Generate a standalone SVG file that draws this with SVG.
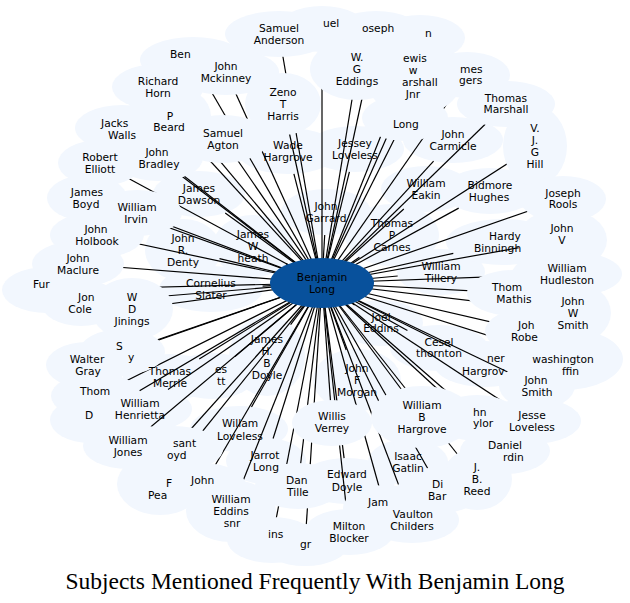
<svg xmlns="http://www.w3.org/2000/svg" width="630" height="603" viewBox="0 0 630 603">
<style>
.c{fill:#f2f7fe;stroke:none}
.e line{stroke:#000;stroke-width:1.2}
text{font-family:"DejaVu Sans","Liberation Sans",sans-serif;font-size:10.7px;fill:#000}
.m{text-anchor:middle}
.title{font-family:"Liberation Serif","Times New Roman",serif;font-size:23.5px;text-anchor:middle}
</style>
<rect width="630" height="603" fill="#fff"/>
<g id="cloud-inner" class="c">
<ellipse cx="326" cy="212" rx="45" ry="23"/>
<ellipse cx="392" cy="235" rx="47" ry="31"/>
<ellipse cx="253" cy="246" rx="40" ry="31"/>
<ellipse cx="211" cy="289" rx="52" ry="23"/>
<ellipse cx="381" cy="323" rx="42" ry="23"/>
<ellipse cx="267" cy="356" rx="38" ry="40"/>
<ellipse cx="357" cy="380" rx="44" ry="31"/>
<ellipse cx="439" cy="348" rx="49" ry="23"/>
<ellipse cx="441" cy="272" rx="44" ry="23"/>
<ellipse cx="183" cy="250" rx="38" ry="31"/>
<ellipse cx="288" cy="151" rx="51" ry="23"/>
<ellipse cx="355" cy="149" rx="49" ry="23"/>
<ellipse cx="426" cy="189" rx="45" ry="23"/>
<ellipse cx="212" cy="376" rx="43" ry="23"/>
<ellipse cx="199" cy="194" rx="46" ry="23"/>
<ellipse cx="490" cy="191" rx="47" ry="23"/>
<ellipse cx="503" cy="242" rx="57" ry="23"/>
<ellipse cx="453" cy="140" rx="50" ry="23"/>
<ellipse cx="485" cy="364" rx="51" ry="23"/>
<ellipse cx="170" cy="377" rx="47" ry="23"/>
<ellipse cx="140" cy="409" rx="52" ry="23"/>
<ellipse cx="239" cy="429" rx="49" ry="23"/>
<ellipse cx="347" cy="481" rx="48" ry="23"/>
<ellipse cx="266" cy="461" rx="40" ry="23"/>
<ellipse cx="408" cy="462" rx="40" ry="23"/>
</g>
<g id="connectors" class="e">
<line x1="322" y1="283" x2="324.7" y2="235"/>
<line x1="322" y1="283" x2="359.4" y2="257.3"/>
<line x1="322" y1="283" x2="285.9" y2="263.6"/>
<line x1="322" y1="283" x2="262.6" y2="286.2"/>
<line x1="322" y1="283" x2="354.6" y2="305.1"/>
<line x1="322" y1="283" x2="290.6" y2="324.7"/>
<line x1="322" y1="283" x2="346.2" y2="350"/>
<line x1="322" y1="283" x2="407.4" y2="330.4"/>
<line x1="322" y1="283" x2="397.7" y2="276"/>
<line x1="322" y1="283" x2="219.5" y2="258.7"/>
<line x1="322" y1="283" x2="293.9" y2="173.8"/>
<line x1="322" y1="283" x2="349.4" y2="171.8"/>
<line x1="322" y1="283" x2="403.8" y2="209"/>
<line x1="322" y1="283" x2="235" y2="356.6"/>
<line x1="322" y1="283" x2="225.2" y2="212.9"/>
<line x1="322" y1="283" x2="458.7" y2="208.1"/>
<line x1="322" y1="283" x2="453.3" y2="253.3"/>
<line x1="322" y1="283" x2="433.6" y2="161.2"/>
<line x1="322" y1="283" x2="450.7" y2="347"/>
<line x1="322" y1="283" x2="199.2" y2="359"/>
<line x1="322" y1="283" x2="168" y2="389.6"/>
<line x1="322" y1="283" x2="251.5" y2="407"/>
<line x1="322" y1="283" x2="344.1" y2="458.1"/>
<line x1="322" y1="283" x2="273.1" y2="438.5"/>
<line x1="322" y1="283" x2="397.3" y2="439.8"/>
<line x1="322" y1="283" x2="332" y2="422"/>
<line x1="322" y1="283" x2="223" y2="139"/>
<line x1="322" y1="283" x2="422" y2="417"/>
<line x1="322" y1="283" x2="279" y2="34"/>
<line x1="322" y1="283" x2="322" y2="29"/>
<line x1="322" y1="283" x2="376" y2="34"/>
<line x1="322" y1="283" x2="420" y2="38"/>
<line x1="322" y1="283" x2="193" y2="60"/>
<line x1="322" y1="283" x2="226" y2="72"/>
<line x1="322" y1="283" x2="357" y2="69"/>
<line x1="322" y1="283" x2="414" y2="76"/>
<line x1="322" y1="283" x2="467" y2="75"/>
<line x1="322" y1="283" x2="158" y2="87"/>
<line x1="322" y1="283" x2="283" y2="104"/>
<line x1="322" y1="283" x2="506" y2="104"/>
<line x1="322" y1="283" x2="169" y2="116"/>
<line x1="322" y1="283" x2="122" y2="128"/>
<line x1="322" y1="283" x2="405" y2="118"/>
<line x1="322" y1="283" x2="535" y2="146"/>
<line x1="322" y1="283" x2="100" y2="163"/>
<line x1="322" y1="283" x2="158" y2="158"/>
<line x1="322" y1="283" x2="563" y2="199"/>
<line x1="322" y1="283" x2="87" y2="198"/>
<line x1="322" y1="283" x2="137" y2="213"/>
<line x1="322" y1="283" x2="97" y2="235"/>
<line x1="322" y1="283" x2="562" y2="240"/>
<line x1="322" y1="283" x2="78" y2="264"/>
<line x1="322" y1="283" x2="567" y2="274"/>
<line x1="322" y1="283" x2="47" y2="290"/>
<line x1="322" y1="283" x2="81" y2="303"/>
<line x1="322" y1="283" x2="132" y2="309"/>
<line x1="322" y1="283" x2="514" y2="293"/>
<line x1="322" y1="283" x2="573" y2="313"/>
<line x1="322" y1="283" x2="530" y2="331"/>
<line x1="322" y1="283" x2="122" y2="352"/>
<line x1="322" y1="283" x2="563" y2="359"/>
<line x1="322" y1="283" x2="87" y2="365"/>
<line x1="322" y1="283" x2="537" y2="386"/>
<line x1="322" y1="283" x2="96" y2="396"/>
<line x1="322" y1="283" x2="90" y2="420"/>
<line x1="322" y1="283" x2="477" y2="418"/>
<line x1="322" y1="283" x2="532" y2="421"/>
<line x1="322" y1="283" x2="128" y2="446"/>
<line x1="322" y1="283" x2="173" y2="449"/>
<line x1="322" y1="283" x2="505" y2="451"/>
<line x1="322" y1="283" x2="477" y2="479"/>
<line x1="322" y1="283" x2="203" y2="486"/>
<line x1="322" y1="283" x2="298" y2="486"/>
<line x1="322" y1="283" x2="440" y2="490"/>
<line x1="322" y1="283" x2="160" y2="484"/>
<line x1="322" y1="283" x2="231" y2="511"/>
<line x1="322" y1="283" x2="385" y2="508"/>
<line x1="322" y1="283" x2="412" y2="520"/>
<line x1="322" y1="283" x2="272" y2="540"/>
<line x1="322" y1="283" x2="305" y2="545"/>
<line x1="322" y1="283" x2="349" y2="532"/>
</g>
<g id="cloud-outer" class="c">
<ellipse cx="332" cy="423" rx="40" ry="23"/>
<ellipse cx="223" cy="139" rx="46" ry="24"/>
<ellipse cx="422" cy="417" rx="51" ry="31"/>
<ellipse cx="279" cy="34" rx="54" ry="23"/>
<ellipse cx="322" cy="29" rx="45" ry="23"/>
<ellipse cx="376" cy="34" rx="47" ry="23"/>
<ellipse cx="420" cy="38" rx="45" ry="23"/>
<ellipse cx="193" cy="60" rx="53" ry="23"/>
<ellipse cx="226" cy="72" rx="53" ry="23"/>
<ellipse cx="357" cy="69" rx="47" ry="31"/>
<ellipse cx="414" cy="76" rx="49" ry="40"/>
<ellipse cx="467" cy="75" rx="43" ry="23"/>
<ellipse cx="158" cy="87" rx="46" ry="23"/>
<ellipse cx="283" cy="104" rx="38" ry="31"/>
<ellipse cx="506" cy="104" rx="49" ry="23"/>
<ellipse cx="169" cy="116" rx="42" ry="31"/>
<ellipse cx="122" cy="128" rx="47" ry="23"/>
<ellipse cx="405" cy="118" rx="43" ry="23"/>
<ellipse cx="535" cy="146" rx="32" ry="40"/>
<ellipse cx="100" cy="163" rx="42" ry="23"/>
<ellipse cx="158" cy="158" rx="45" ry="23"/>
<ellipse cx="563" cy="199" rx="43" ry="23"/>
<ellipse cx="87" cy="198" rx="40" ry="23"/>
<ellipse cx="137" cy="213" rx="45" ry="23"/>
<ellipse cx="97" cy="235" rx="47" ry="23"/>
<ellipse cx="562" cy="240" rx="45" ry="31"/>
<ellipse cx="78" cy="264" rx="46" ry="23"/>
<ellipse cx="567" cy="274" rx="55" ry="23"/>
<ellipse cx="47" cy="290" rx="45" ry="23"/>
<ellipse cx="81" cy="303" rx="40" ry="23"/>
<ellipse cx="132" cy="309" rx="41" ry="31"/>
<ellipse cx="514" cy="293" rx="47" ry="23"/>
<ellipse cx="573" cy="313" rx="38" ry="31"/>
<ellipse cx="530" cy="331" rx="45" ry="23"/>
<ellipse cx="122" cy="352" rx="43" ry="23"/>
<ellipse cx="563" cy="359" rx="60" ry="31"/>
<ellipse cx="87" cy="365" rx="41" ry="23"/>
<ellipse cx="537" cy="386" rx="38" ry="23"/>
<ellipse cx="96" cy="396" rx="45" ry="23"/>
<ellipse cx="90" cy="420" rx="40" ry="23"/>
<ellipse cx="477" cy="418" rx="42" ry="23"/>
<ellipse cx="532" cy="421" rx="49" ry="23"/>
<ellipse cx="128" cy="446" rx="45" ry="23"/>
<ellipse cx="173" cy="449" rx="50" ry="23"/>
<ellipse cx="505" cy="451" rx="45" ry="23"/>
<ellipse cx="477" cy="479" rx="35" ry="31"/>
<ellipse cx="203" cy="486" rx="43" ry="23"/>
<ellipse cx="298" cy="486" rx="43" ry="23"/>
<ellipse cx="440" cy="490" rx="43" ry="23"/>
<ellipse cx="160" cy="484" rx="43" ry="31"/>
<ellipse cx="231" cy="511" rx="45" ry="31"/>
<ellipse cx="385" cy="508" rx="42" ry="23"/>
<ellipse cx="412" cy="520" rx="47" ry="23"/>
<ellipse cx="272" cy="540" rx="45" ry="23"/>
<ellipse cx="305" cy="545" rx="43" ry="21"/>
<ellipse cx="349" cy="532" rx="45" ry="23"/>
</g>
<g id="node-benjamin-long">
<ellipse cx="322" cy="283" rx="52" ry="25" fill="#08519c"/>
<text class="m"><tspan x="322" y="281">Benjamin</tspan><tspan x="322" y="293">Long</tspan></text>
</g>
<g id="node-john-garrard"><text class="m"><tspan x="326" y="210">John</tspan><tspan x="326" y="222">Garrard</tspan></text></g>
<g id="node-thomas-p-carnes"><text class="m"><tspan x="392" y="227">Thomas</tspan><tspan x="392" y="239">P</tspan><tspan x="392" y="251">Carnes</tspan></text></g>
<g id="node-james-w-heath"><text class="m"><tspan x="253" y="238">James</tspan><tspan x="253" y="250">W</tspan><tspan x="253" y="262">heath</tspan></text></g>
<g id="node-cornelius-slater"><text class="m"><tspan x="211" y="287">Cornelius</tspan><tspan x="211" y="299">Slater</tspan></text></g>
<g id="node-joel-eddins"><text class="m"><tspan x="381" y="321">Joel</tspan><tspan x="381" y="332">Eddins</tspan></text></g>
<g id="node-james-h-b-doyle"><text class="m"><tspan x="267" y="343">James</tspan><tspan x="267" y="355">H.</tspan><tspan x="267" y="367">B</tspan><tspan x="267" y="379">Doyle</tspan></text></g>
<g id="node-john-f-morgan"><text class="m"><tspan x="357" y="372">John</tspan><tspan x="357" y="384">F</tspan><tspan x="357" y="396">Morgan</tspan></text></g>
<g id="node-cesel-thornton"><text class="m"><tspan x="439" y="346">Cesel</tspan><tspan x="439" y="357">thornton</tspan></text></g>
<g id="node-william-tillery"><text class="m"><tspan x="441" y="270">William</tspan><tspan x="441" y="282">Tillery</tspan></text></g>
<g id="node-john-r-denty"><text class="m"><tspan x="183" y="242">John</tspan><tspan x="183" y="254">R.</tspan><tspan x="183" y="266">Denty</tspan></text></g>
<g id="node-wade-hargrove"><text class="m"><tspan x="288" y="149">Wade</tspan><tspan x="288" y="161">Hargrove</tspan></text></g>
<g id="node-jessey-loveless"><text class="m"><tspan x="355" y="147">Jessey</tspan><tspan x="355" y="159">Loveless</tspan></text></g>
<g id="node-william-eakin"><text class="m"><tspan x="426" y="187">William</tspan><tspan x="426" y="199">Eakin</tspan></text></g>
<g id="node-willis-verrey"><text class="m"><tspan x="332" y="420">Willis</tspan><tspan x="332" y="432">Verrey</tspan></text></g>
<g id="node-es-tt"><text><tspan x="215" y="373">es</tspan><tspan x="217" y="385">tt</tspan></text></g>
<g id="node-james-dawson"><text class="m"><tspan x="199" y="192">James</tspan><tspan x="199" y="204">Dawson</tspan></text></g>
<g id="node-samuel-agton"><text class="m"><tspan x="223" y="137">Samuel</tspan><tspan x="223" y="149">Agton</tspan></text></g>
<g id="node-bidmore-hughes"><text class="m"><tspan x="490" y="189">Bidmore</tspan><tspan x="489" y="201">Hughes</tspan></text></g>
<g id="node-hardy-binningh"><text><tspan x="505" y="240" class="m">Hardy</tspan><tspan x="474" y="252">Binningh</tspan></text></g>
<g id="node-john-carmicle"><text class="m"><tspan x="453" y="138">John</tspan><tspan x="453" y="150">Carmicle</tspan></text></g>
<g id="node-homer-hargrove"><text><tspan x="487" y="362">ner</tspan><tspan x="462" y="375">Hargrov</tspan></text></g>
<g id="node-thomas-merrle"><text class="m"><tspan x="170" y="375">Thomas</tspan><tspan x="170" y="387">Merrle</tspan></text></g>
<g id="node-william-henrietta"><text class="m"><tspan x="140" y="407">William</tspan><tspan x="140" y="419">Henrietta</tspan></text></g>
<g id="node-willam-loveless"><text class="m"><tspan x="240" y="427">Willam</tspan><tspan x="240" y="440">Loveless</tspan></text></g>
<g id="node-edward-doyle"><text class="m"><tspan x="347" y="478">Edward</tspan><tspan x="347" y="491">Doyle</tspan></text></g>
<g id="node-jarrot-long"><text class="m"><tspan x="265" y="459">Jarrot</tspan><tspan x="266" y="471">Long</tspan></text></g>
<g id="node-william-b-hargrove"><text class="m"><tspan x="422" y="409">William</tspan><tspan x="422" y="421">B</tspan><tspan x="422" y="433">Hargrove</tspan></text></g>
<g id="node-samuel-anderson"><text class="m"><tspan x="279" y="32">Samuel</tspan><tspan x="279" y="44">Anderson</tspan></text></g>
<g id="node-samuel-uel"><text x="323" y="27">uel</text></g>
<g id="node-joseph"><text x="362" y="32">oseph</text></g>
<g id="node-n"><text x="425" y="37">n</text></g>
<g id="node-ben"><text x="170" y="58">Ben</text></g>
<g id="node-john-mckinney"><text class="m"><tspan x="226" y="70">John</tspan><tspan x="226" y="82">Mckinney</tspan></text></g>
<g id="node-w-g-eddings"><text class="m"><tspan x="357" y="61">W.</tspan><tspan x="357" y="73">G</tspan><tspan x="357" y="85">Eddings</tspan></text></g>
<g id="node-lewis-w-marshall-jnr"><text><tspan x="403" y="62">ewis</tspan><tspan x="413" y="74" class="m">w</tspan><tspan x="402" y="86">arshall</tspan><tspan x="413" y="98" class="m">Jnr</tspan></text></g>
<g id="node-james-rogers"><text><tspan x="460" y="73">mes</tspan><tspan x="459" y="84">gers</tspan></text></g>
<g id="node-richard-horn"><text class="m"><tspan x="158" y="85">Richard</tspan><tspan x="158" y="97">Horn</tspan></text></g>
<g id="node-zeno-t-harris"><text class="m"><tspan x="283" y="96">Zeno</tspan><tspan x="283" y="108">T</tspan><tspan x="283" y="120">Harris</tspan></text></g>
<g id="node-thomas-marshall"><text class="m"><tspan x="506" y="102">Thomas</tspan><tspan x="506" y="113">Marshall</tspan></text></g>
<g id="node-p-beard"><text class="m"><tspan x="170" y="120">P</tspan><tspan x="169" y="131">Beard</tspan></text></g>
<g id="node-jackson-walls"><text><tspan x="101" y="127">Jacks</tspan><tspan x="122" y="139" class="m">Walls</tspan></text></g>
<g id="node-long"><text x="393" y="128">Long</text></g>
<g id="node-v-j-g-hill"><text class="m"><tspan x="535" y="132">V.</tspan><tspan x="535" y="144">J.</tspan><tspan x="535" y="156">G</tspan><tspan x="535" y="168">Hill</tspan></text></g>
<g id="node-robert-elliott"><text class="m"><tspan x="100" y="161">Robert</tspan><tspan x="100" y="173">Elliott</tspan></text></g>
<g id="node-john-bradley"><text class="m"><tspan x="157" y="156">John</tspan><tspan x="159" y="168">Bradley</tspan></text></g>
<g id="node-joseph-rools"><text class="m"><tspan x="563" y="197">Joseph</tspan><tspan x="563" y="208">Rools</tspan></text></g>
<g id="node-james-boyd"><text class="m"><tspan x="87" y="196">James</tspan><tspan x="86" y="208">Boyd</tspan></text></g>
<g id="node-william-irvin"><text class="m"><tspan x="137" y="211">William</tspan><tspan x="136" y="223">Irvin</tspan></text></g>
<g id="node-john-holbook"><text class="m"><tspan x="96" y="233">John</tspan><tspan x="97" y="245">Holbook</tspan></text></g>
<g id="node-john-v"><text class="m"><tspan x="562" y="232">John</tspan><tspan x="562" y="244">V</tspan></text></g>
<g id="node-john-maclure"><text class="m"><tspan x="78" y="262">John</tspan><tspan x="78" y="274">Maclure</tspan></text></g>
<g id="node-william-hudleston"><text class="m"><tspan x="567" y="272">William</tspan><tspan x="567" y="284">Hudleston</tspan></text></g>
<g id="node-fur"><text x="33" y="288">Fur</text></g>
<g id="node-jon-cole"><text><tspan x="78" y="301">Jon</tspan><tspan x="80" y="313" class="m">Cole</tspan></text></g>
<g id="node-w-d-jinings"><text class="m"><tspan x="132" y="301">W</tspan><tspan x="132" y="313">D</tspan><tspan x="132" y="325">Jinings</tspan></text></g>
<g id="node-thomas-mathis"><text><tspan x="492" y="291">Thom</tspan><tspan x="514" y="303" class="m">Mathis</tspan></text></g>
<g id="node-john-w-smith"><text class="m"><tspan x="573" y="305">John</tspan><tspan x="573" y="317">W</tspan><tspan x="573" y="329">Smith</tspan></text></g>
<g id="node-john-roberts"><text><tspan x="518" y="329">Joh</tspan><tspan x="511" y="341">Robe</tspan></text></g>
<g id="node-s-y"><text><tspan x="116" y="350">S</tspan><tspan x="128" y="361">y</tspan></text></g>
<g id="node-washington"><text><tspan x="563" y="363" class="m">washington</tspan><tspan x="562" y="375">ffin</tspan></text></g>
<g id="node-walter-gray"><text class="m"><tspan x="87" y="363">Walter</tspan><tspan x="88" y="375">Gray</tspan></text></g>
<g id="node-john-smith"><text class="m"><tspan x="536" y="384">John</tspan><tspan x="537" y="396">Smith</tspan></text></g>
<g id="node-thom"><text x="80" y="395">Thom</text></g>
<g id="node-d"><text x="85" y="419">D</text></g>
<g id="node-john-taylor"><text><tspan x="473" y="416">hn</tspan><tspan x="473" y="427">ylor</tspan></text></g>
<g id="node-jesse-loveless"><text class="m"><tspan x="532" y="419">Jesse</tspan><tspan x="532" y="431">Loveless</tspan></text></g>
<g id="node-william-jones"><text class="m"><tspan x="128" y="444">William</tspan><tspan x="128" y="456">Jones</tspan></text></g>
<g id="node-pleasant-boyd"><text><tspan x="173" y="447">sant</tspan><tspan x="167" y="459">oyd</tspan></text></g>
<g id="node-daniel-hardin"><text><tspan x="505" y="449" class="m">Daniel</tspan><tspan x="503" y="461">rdin</tspan></text></g>
<g id="node-isaac-gatlin"><text class="m"><tspan x="408" y="460">Isaac</tspan><tspan x="408" y="472">Gatlin</tspan></text></g>
<g id="node-j-b-reed"><text class="m"><tspan x="477" y="471">J.</tspan><tspan x="477" y="483">B.</tspan><tspan x="477" y="495">Reed</tspan></text></g>
<g id="node-john-b"><text x="191" y="484">John</text></g>
<g id="node-dan-tille"><text><tspan x="286" y="484">Dan</tspan><tspan x="287" y="496">Tille</tspan></text></g>
<g id="node-di-bar"><text><tspan x="432" y="488">Di</tspan><tspan x="428" y="500">Bar</tspan></text></g>
<g id="node-f-pea"><text><tspan x="166" y="487">F</tspan><tspan x="148" y="499">Pea</tspan></text></g>
<g id="node-william-eddins-snr"><text class="m"><tspan x="231" y="503">William</tspan><tspan x="231" y="515">Eddins</tspan><tspan x="232" y="527">snr</tspan></text></g>
<g id="node-jam"><text x="368" y="506">Jam</text></g>
<g id="node-vaulton-childers"><text class="m"><tspan x="413" y="518">Vaulton</tspan><tspan x="412" y="530">Childers</tspan></text></g>
<g id="node-ins"><text x="268" y="538">ins</text></g>
<g id="node-gr"><text x="300" y="548">gr</text></g>
<g id="node-milton-blocker"><text class="m"><tspan x="349" y="530">Milton</tspan><tspan x="349" y="542">Blocker</tspan></text></g>
<text class="title" x="315" y="589">Subjects Mentioned Frequently With Benjamin Long</text>
</svg>
